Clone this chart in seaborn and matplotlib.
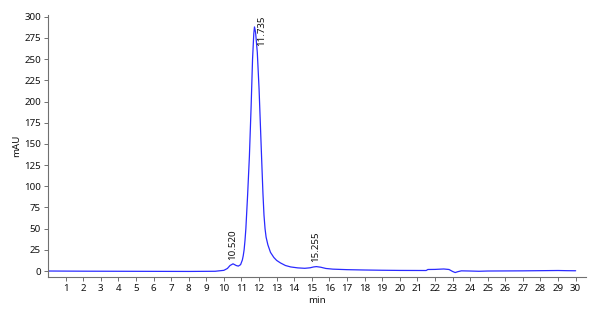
import matplotlib
matplotlib.use("Agg")
import matplotlib.pyplot as plt
import seaborn as sns
import pandas as pd

time_min = [0.0, 2.0, 4.0, 6.0, 8.0, 9.5, 10.0, 10.2, 10.35, 10.52, 10.7, 10.82,
            10.95, 11.05, 11.1, 11.15, 11.2, 11.25, 11.35, 11.45, 11.55, 11.63, 11.7, 11.74,
            11.8, 11.9, 12.0, 12.08, 12.16, 12.22, 12.28, 12.34, 12.4, 12.5, 12.65, 12.84, 13.0,
            13.22, 13.5, 13.8, 14.2, 14.6, 14.9, 15.1, 15.26, 15.5, 15.8, 16.2,
            17.0, 18.0, 19.0, 20.0, 21.5, 21.6, 22.0, 22.5, 22.8, 23.0, 23.15,
            23.3, 23.5, 24.0, 24.5, 25.0, 27.0, 29.0, 29.5, 30.0]
mau = [0.0, -0.2, -0.3, -0.4, -0.5, -0.3, 0.8, 3.0, 6.5, 8.5, 6.5, 5.8,
       7.5, 13.0, 18.0, 25.0, 36.0, 50.0, 90.0, 135.0, 195.0, 250.0, 280.0, 288.0,
       282.0, 258.0, 215.0, 170.0, 125.0, 92.0, 66.0, 50.0, 40.0, 31.0, 22.0, 16.0, 12.5,
       9.5, 6.5, 4.8, 3.7, 3.2, 3.8, 4.8, 5.2, 4.5, 3.0, 2.2,
       1.6, 1.2, 0.9, 0.7, 0.6, 1.8, 1.9, 2.4, 1.8, -0.5, -1.8,
       -0.8, 0.2, 0.0, -0.3, 0.0, 0.2, 0.6, 0.4, 0.3]

peak_labels = ["10.520", "11.735", "15.255"]
label_x = [10.5, 12.15, 15.24]
label_y = [12.5, 265.0, 10.7]

x_ticks = list(range(1, 31))
y_ticks = [0, 25, 50, 75, 100, 125, 150, 175, 200, 225, 250, 275, 300]

sns.set_style("ticks")
plt.rcParams["font.family"] = ["Noto Sans", "DejaVu Sans"]

df = pd.DataFrame({"min": time_min, "mAU": mau})

fig = plt.figure(figsize=(6.0, 3.14), dpi=100)
ax = fig.add_axes([0.08, 0.118, 0.897, 0.834])
sns.lineplot(data=df, x="min", y="mAU", ax=ax, color="#2a2aff", linewidth=0.9)

for lab, lx, ly in zip(peak_labels, label_x, label_y):
    ax.text(lx, ly, lab, rotation=90, ha="center", va="bottom", fontsize=7, color="#111111")

ax.set_xlim(0, 30.6)
ax.set_ylim(-7, 302)
ax.set_xticks(x_ticks)
ax.set_yticks(y_ticks)
ax.tick_params(axis="both", labelsize=7, length=3, width=0.7, color="#707070",
               labelcolor="#111111", pad=2)
for s in ["top", "right"]:
    ax.spines[s].set_visible(False)
for s in ["left", "bottom"]:
    ax.spines[s].set_color("#707070")
    ax.spines[s].set_linewidth(0.8)
ax.set_xlabel("min", fontsize=7, color="#111111", labelpad=2)
ax.set_ylabel("mAU", fontsize=7, color="#111111", labelpad=2)

fig.savefig("out.png", dpi=100)
